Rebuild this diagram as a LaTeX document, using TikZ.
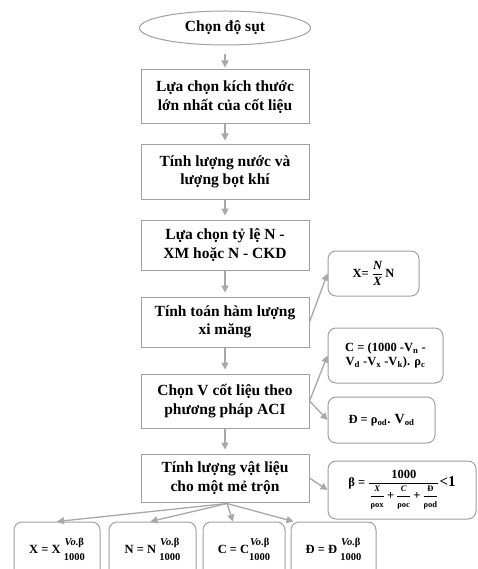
\documentclass[tikz,border=0pt]{standalone}
\usepackage{amsmath}
\usepackage{fontspec}
\setmainfont{Liberation Serif}
\usetikzlibrary{arrows.meta,shapes.geometric,calc}

\definecolor{boxgray}{HTML}{A0A0A0}
\definecolor{arrgray}{HTML}{A8A8A8}

% small bold fraction built from text boxes: #1 size, #2 bar thickness, #3 top, #4 bottom
\newcommand{\frc}[4]{\ensuremath{\genfrac{}{}{#2}{0}{\hbox{\fontsize{#1}{#1}\selectfont\bfseries #3}}{\hbox{\fontsize{#1}{#1}\selectfont\bfseries #4}}}}
% two stacked lines without a bar, centred on the math axis: #1 size, #2 line pitch
\newcommand{\stk}[4]{\ensuremath{\vcenter{\hbox{\fontsize{#1}{#2}\selectfont\bfseries
  \begin{tabular}{@{}c@{}}#3\\#4\end{tabular}}}}}

\tikzset{
  mainbox/.style={draw=boxgray, line width=1pt, minimum width=168pt, align=center,
    inner sep=0pt, font=\bfseries\fontsize{15.5}{18.5}\selectfont},
  fbox/.style={draw=boxgray, line width=1pt, rounded corners=8pt, align=center,
    inner sep=0pt, font=\bfseries\fontsize{12.5}{14}\selectfont},
  resbox/.style={fbox, minimum height=56pt, font=\bfseries\fontsize{12.5}{14}\selectfont},
  arr/.style={draw=arrgray, line width=1.3pt, -{Triangle[length=7pt,width=7pt]}},
}

\begin{document}
\begin{tikzpicture}[x=1pt,y=-1pt]
\useasboundingbox (0,0) rectangle (477,569);
\clip (0,0) rectangle (477,569);

% main column
\node[ellipse, draw=boxgray, line width=1pt, minimum width=171pt, minimum height=34pt,
  inner sep=0pt, font=\bfseries\fontsize{15.5}{18.5}\selectfont] (s) at (225,28) {Chọn độ sụt};
\node[mainbox, minimum height=54pt] (b1) at (225,97) {Lựa chọn kích thước\\lớn nhất của cốt liệu};
\node[mainbox, minimum height=54pt] (b2) at (225,172) {Tính lượng nước và\\lượng bọt khí};
\node[mainbox, minimum height=50pt] (b3) at (225,245) {Lựa chọn tỷ lệ N -\\XM hoặc N - CKD};
\node[mainbox, minimum height=50pt] (b4) at (225,322) {Tính toán hàm lượng\\xi măng};
\node[mainbox, minimum height=54pt] (b5) at (225,401) {Chọn V cốt liệu theo\\phương pháp ACI};
\node[mainbox, minimum height=48pt] (b6) at (225,478) {Tính lượng vật liệu\\cho một mẻ trộn};

% side formula boxes
\node[fbox, minimum width=91pt, minimum height=45pt] (rx) at (373.5,273.5)
  {X= $\genfrac{}{}{0.5pt}{0}{\textit{N}}{\textit{X}}$\,N};
\node[fbox, minimum width=115pt, minimum height=55pt] (rc) at (385.5,355.5)
  {C = (1000 -V\textsubscript{n} -\\V\textsubscript{d} -V\textsubscript{x} -V\textsubscript{k}). ρ\textsubscript{c}};
\node[fbox, minimum width=107pt, minimum height=46pt] (rd) at (381.5,420)
  {Đ = ρ\textsubscript{od}. {\fontsize{14}{14}\selectfont V}\textsubscript{od}};
\node[fbox, minimum width=148pt, minimum height=58pt] (rb) at (402,490)
  {β = $\genfrac{}{}{0.6pt}{0}{\hbox{\fontsize{12.5}{12.5}\selectfont\bfseries 1000}}%
   {\hbox{\frc{8.5}{0.4pt}{\textit{X}}{ρox}\,+\,\frc{8.5}{0.4pt}{\textit{C}}{ρoc}\,+\,\frc{8.5}{0.4pt}{Đ}{ρod}}}$%
   {\fontsize{15}{15}\selectfont <1}};

% bottom result boxes
\node[resbox, minimum width=86pt] (qx) at (57,550)
  {X = X \stk{10.5}{15}{\textit{Vo}.β}{1000}};
\node[resbox, minimum width=87pt] (qn) at (152.5,550)
  {N = N \stk{10.5}{15}{\textit{Vo}.β}{1000}};
\node[resbox, minimum width=82pt] (qc) at (244,550)
  {C = C\stk{10.5}{15}{\textit{Vo}.β}{1000}};
\node[resbox, minimum width=85pt] (qd) at (333.5,550)
  {Đ = Đ \stk{10.5}{15}{\textit{Vo}.β}{1000}};

% connectors of the main column
\draw[arr, shorten <=9pt, shorten >=2pt] (s) -- (b1);
\draw[arr, shorten >=4pt] (b1) -- (b2);
\draw[arr, shorten >=4pt] (b2) -- (b3);
\draw[arr, shorten >=4pt] (b3) -- (b4);
\draw[arr, shorten >=4pt] (b4) -- (b5);
\draw[arr, shorten >=4pt] (b5) -- (b6);

% connectors to the side boxes
\draw[arr] (b4.east) -- (rx.west);
\draw[arr] (b5.east) -- (rc.west);
\draw[arr] (b5.east) -- (rd.west);
\draw[arr] (b6.east) -- (rb.west);

% connectors to the result boxes
\coordinate (o) at ($(b6.south)+(2,1)$);
\draw[arr] (o) -- (qx.north);
\draw[arr] (o) -- ($(qn.north)+(-2,0)$);
\draw[arr] (o) -- ($(qc.north)+(-11,0)$);
\draw[arr] (o) -- ($(qd.north west)+(3,0)$);
\end{tikzpicture}
\end{document}
